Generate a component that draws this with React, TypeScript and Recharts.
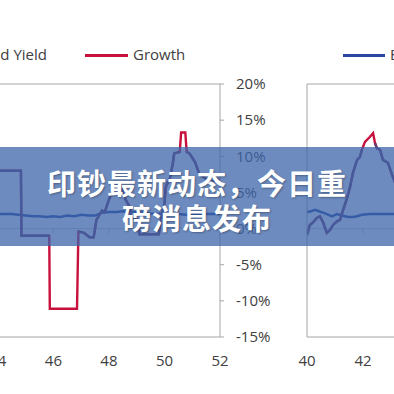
import { LineChart, Line, XAxis, YAxis, ReferenceLine } from 'recharts';

// y axis (shared by both panels)
const yTicks = [-15, -10, -5, 0, 5, 10, 15, 20];
const leftTicks = [44, 46, 48, 50, 52];
const rightTicks = [40, 42, 44, 46];

// left panel: growth (red) and bond yield (purple, gaps where red sticks out)
const leftGrowthX = [43.9, 44.83, 44.85, 45.85, 45.87, 46.85, 46.9, 47.1, 47.3, 47.45, 47.55, 47.75, 47.85, 48.0, 48.1, 48.3, 48.45, 48.6, 48.75, 48.8, 49.05, 49.1, 49.8, 49.85, 50.0, 50.05, 50.2, 50.3, 50.35, 50.55, 50.6, 50.75, 50.8, 50.9, 51.1, 51.25, 51.45, 51.65, 52.0];
const leftGrowth = [8.0, 8.0, -1.0, -1.0, -11.1, -11.1, -0.4, -0.6, -1.2, -1.2, 1.2, 2.5, 2.3, 4.0, 5.0, 6.0, 5.6, 4.0, 3.0, 1.5, 1.2, -0.8, -0.8, 0.8, 3.5, 5.8, 7.0, 9.0, 10.4, 10.6, 13.3, 13.3, 10.6, 10.4, 9.2, 7.6, 7.0, 6.5, 6.8];
const leftBond = [8.0, 8.0, -1.0, -1.0, null, null, -0.4, -0.6, -1.2, -1.2, 1.2, 2.5, 2.3, 4.0, 5.0, 6.0, 5.6, 4.0, 3.0, 1.5, 1.2, -0.8, -0.8, 0.8, 3.5, 5.8, 7.0, 9.0, 10.4, 10.6, null, null, 10.6, 10.4, 9.2, 7.6, 7.0, 6.5, 6.8];
const leftEarnX = [43.9, 44.25, 44.5, 44.75, 45.0, 45.25, 45.5, 45.75, 46.0, 46.25, 46.5, 46.75, 47.0, 47.25, 47.5, 47.75, 48.0, 48.25, 48.5, 48.75, 49.0, 49.25, 49.5, 49.75, 50.0, 50.25, 50.5, 50.75, 51.0, 51.25, 51.5, 51.75, 52.0];
const leftEarn = [2.0, 2.0, 2.0, 1.9, 1.8, 1.7, 1.7, 1.6, 1.7, 1.6, 1.8, 1.7, 1.9, 1.8, 1.8, 2.2, 2.3, 2.3, 2.4, 2.3, 2.3, 2.2, 2.1, 2.0, 2.1, 2.0, 2.0, 1.9, 2.0, 2.0, 2.0, 2.0, 2.0];

// right panel
const rightGrowthX = [40.0, 40.1, 40.2, 40.36, 40.46, 40.57, 40.71, 40.82, 40.93, 41.07, 41.18, 41.29, 41.43, 41.54, 41.64, 41.79, 41.89, 41.96, 42.07, 42.25, 42.36, 42.43, 42.5, 42.61, 42.71, 42.89, 43.04, 43.18, 43.3];
const rightGrowth = [-0.9, 0.5, 0.8, 1.5, 1.7, 0.9, -0.6, -0.2, 0.5, 1.0, 1.2, 2.6, 4.2, 5.8, 7.7, 9.5, 9.9, 10.9, 12.0, 12.7, 13.2, 11.8, 11.1, 10.9, 9.5, 9.1, 7.4, 6.0, 5.5];
const rightBond = [-0.9, 0.5, 0.8, 1.5, 1.7, 0.9, -0.6, -0.2, 0.5, 1.0, 1.2, 2.6, 4.2, 5.8, 7.7, 9.5, 9.9, 10.9, null, null, null, 11.8, 11.1, 10.9, 9.5, 9.1, 7.4, 6.0, 5.5];
const rightEarnX = [40.0, 40.14, 40.29, 40.43, 40.57, 40.71, 40.89, 41.07, 41.25, 41.46, 41.64, 41.79, 41.96, 42.25, 42.5, 42.75, 43.0, 43.3];
const rightEarn = [2.3, 2.4, 2.6, 2.4, 2.2, 2.0, 1.7, 2.0, 1.8, 1.6, 1.6, 1.7, 1.9, 2.0, 2.0, 2.0, 2.0, 2.0];

const RED = '#C8103C';
const PURPLE = '#633C72';
const BLUE = '#2A46A0';
const AXIS = '#A6A6A6';
const TEXT = '#404040';

const rows = (xs: number[], ys: (number | null)[]) => xs.map((x, i) => ({ x, y: ys[i] }));

function Panel({ growthX, growth, bond, earnX, earn, domain, ticks, side }: {
  growthX: number[]; growth: number[]; bond: (number | null)[];
  earnX: number[]; earn: number[]; domain: [number, number]; ticks: number[]; side: 'left' | 'right';
}) {
  const width = side === 'left' ? 296 : 189;
  const marginLeft = side === 'left' ? 0 : 20;
  return (
    <LineChart width={width} height={394} margin={{ top: 84, right: 0, bottom: 27, left: marginLeft }}>
      <XAxis
        type="number"
        dataKey="x"
        domain={domain}
        ticks={ticks}
        interval={0}
        allowDataOverflow
        height={30}
        tickSize={0}
        tickMargin={18}
        tickLine={false}
        axisLine={{ stroke: AXIS }}
        tick={{ fill: TEXT, fontSize: 15 }}
      />
      {side === 'left' ? (
        <YAxis
          orientation="right"
          type="number"
          domain={[-15, 20]}
          ticks={yTicks}
          interval={0}
          width={60}
          tickSize={4}
          tickMargin={12}
          tickLine={{ stroke: AXIS }}
          axisLine={{ stroke: AXIS }}
          tick={{ fill: TEXT, fontSize: 15 }}
          tickFormatter={(v: number) => `${v}%`}
        />
      ) : (
        <YAxis
          orientation="left"
          type="number"
          domain={[-15, 20]}
          ticks={yTicks}
          width={1}
          tick={false}
          tickLine={false}
          axisLine={{ stroke: AXIS }}
        />
      )}
      <ReferenceLine y={20} stroke={AXIS} />
      <ReferenceLine y={0} stroke="#D0D0D0" />
      {ticks.map((t) => (
        <ReferenceLine key={t} segment={[{ x: t, y: 0 }, { x: t, y: -0.7 }]} stroke="#C8C8C8" />
      ))}
      <Line data={rows(earnX, earn)} dataKey="y" type="linear" stroke={BLUE} strokeWidth={2.5} dot={false} activeDot={false} isAnimationActive={false} />
      <Line data={rows(growthX, growth)} dataKey="y" type="linear" stroke={RED} strokeWidth={2.4} dot={false} activeDot={false} isAnimationActive={false} />
      <Line data={rows(growthX, bond)} dataKey="y" type="linear" stroke={PURPLE} strokeWidth={2.4} dot={false} activeDot={false} isAnimationActive={false} connectNulls={false} />
    </LineChart>
  );
}

export default function App() {
  return (
    <div style={{ position: 'absolute', left: 0, top: 0, width: 394, height: 394, overflow: 'hidden', background: '#fff', fontFamily: '"Open Sans", sans-serif' }}>
      {/* legend */}
      <div style={{ position: 'absolute', right: 347, top: 44, fontSize: 15, lineHeight: '20px', color: TEXT, whiteSpace: 'nowrap' }}>Bond Yield</div>
      <div style={{ position: 'absolute', left: 85, top: 54, width: 43, height: 2.5, background: RED }} />
      <div style={{ position: 'absolute', left: 133, top: 44, fontSize: 15, lineHeight: '20px', color: TEXT, whiteSpace: 'nowrap' }}>Growth</div>
      <div style={{ position: 'absolute', left: 343, top: 54, width: 42, height: 2.5, background: BLUE }} />
      <div style={{ position: 'absolute', left: 390, top: 44, fontSize: 15, lineHeight: '20px', color: TEXT, whiteSpace: 'nowrap' }}>Earnings Yield</div>

      <div style={{ position: 'absolute', left: -16, top: 0 }}>
        <Panel growthX={leftGrowthX} growth={leftGrowth} bond={leftBond} earnX={leftEarnX} earn={leftEarn} domain={[43.5, 52]} ticks={leftTicks} side="left" />
      </div>
      <div style={{ position: 'absolute', left: 286, top: 0 }}>
        <Panel growthX={rightGrowthX} growth={rightGrowth} bond={rightBond} earnX={rightEarnX} earn={rightEarn} domain={[40, 46]} ticks={rightTicks} side="right" />
      </div>

      {/* headline banner */}
      <div style={{ position: 'absolute', left: 0, top: 147, width: 394, height: 99, background: 'rgba(60,100,170,0.75)' }}>
        <div style={{
          position: 'absolute', left: 37, top: 18, width: 320, textAlign: 'center', color: '#fff',
          fontFamily: '"Noto Sans CJK SC", sans-serif', fontWeight: 700, fontSize: 29, lineHeight: '35px',
          letterSpacing: 1, textShadow: '1px 1px 2px rgba(0,0,0,0.3)',
        }}>
          印钞最新动态，今日重磅消息发布
        </div>
      </div>
    </div>
  );
}
